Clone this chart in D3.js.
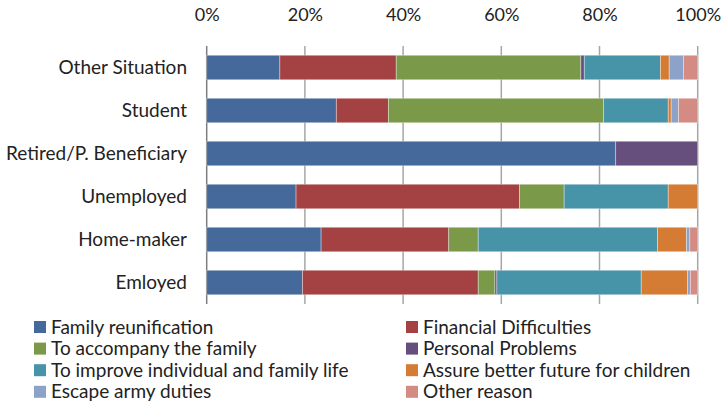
<html>
<head>
<style>
body { margin: 0; background: #fff; }
text { font-family: Lato, "Open Sans", sans-serif; fill: #222; }
.tick text { font-size: 18px; }
.cat text { font-size: 19px; }
.legend text { font-size: 19px; }
</style>
</head>
<body>
<svg height="403" width="723" id="container"></svg>
<script src="https://cdn.jsdelivr.net/npm/d3@7/dist/d3.min.js" charset="UTF-8"></script>
<script>
// categories top to bottom
var categories = ["Other Situation", "Student", "Retired/P. Beneficiary", "Unemployed", "Home-maker", "Emloyed"];
var seriesNames = ["Family reunification", "Financial Difficulties", "To accompany the family", "Personal Problems",
  "To improve individual and family life", "Assure better future for children", "Escape army duties", "Other reason"];
var colors = ["#45699a", "#a44142", "#7a9a4a", "#664f7c", "#4793a8", "#d47c34", "#8da2c8", "#d38b83"];
// percentages per series, same order as categories
var familyReunification = [14.9, 26.4, 83.3, 18.2, 23.3, 19.5];
var financialDifficulties = [23.7, 10.6, 0, 45.5, 26.0, 35.8];
var accompanyFamily = [37.6, 43.8, 0, 9.1, 6.0, 3.4];
var personalProblems = [0.7, 0, 16.7, 0, 0, 0.4];
var improveLife = [15.5, 13.2, 0, 21.2, 36.5, 29.4];
var betterFuture = [1.8, 0.6, 0, 6.0, 5.9, 9.4];
var escapeArmy = [2.9, 1.5, 0, 0, 0.7, 0.6];
var otherReason = [2.9, 3.9, 0, 0, 1.6, 1.5];
var tickValues = [0, 0.2, 0.4, 0.6, 0.8, 1];

var series = [familyReunification, financialDifficulties, accompanyFamily, personalProblems,
  improveLife, betterFuture, escapeArmy, otherReason];

// build rows for the stack
var rows = categories.map(function(c, i) {
  var r = {cat: c};
  seriesNames.forEach(function(s, j) { r[s] = series[j][i]; });
  return r;
});

var svg = d3.select("#container");
var x = d3.scaleLinear().domain([0, 1]).range([206.7, 697.7]);
var y = d3.scaleBand().domain(categories).range([46, 304]).paddingInner(0.43).paddingOuter(0.215);

var stack = d3.stack().keys(seriesNames).offset(d3.stackOffsetExpand);
var stacked = stack(rows);

// gridlines
svg.append("g").selectAll("line")
  .data(tickValues).enter().append("line")
  .attr("x1", d => x(d)).attr("x2", d => x(d))
  .attr("y1", 46).attr("y2", 304)
  .attr("stroke", (d, i) => i == 0 ? "#7f7f7f" : "#a6a6a6")
  .attr("stroke-width", 1.5);

// bars
svg.append("g").selectAll("g")
  .data(stacked).enter().append("g")
  .attr("fill", (d, i) => colors[i])
  .selectAll("rect")
  .data(d => d).enter().append("rect")
  .attr("x", d => x(d[0]))
  .attr("width", d => Math.max(0, x(d[1]) - x(d[0])))
  .attr("y", d => y(d.data.cat))
  .attr("height", y.bandwidth())
  .attr("stroke", "rgba(255,255,255,0.45)")
  .attr("stroke-width", 0.8);

// top axis labels
var axis = d3.axisTop(x).tickValues(tickValues).tickFormat(d3.format(".0%")).tickSize(0).tickPadding(0);
svg.append("g").attr("transform", "translate(0,21)").call(axis)
  .call(g => g.select(".domain").remove());
svg.selectAll(".tick text").attr("fill", "#222").attr("dy", 0);

// category labels
var cat = svg.append("g").attr("class", "cat");
cat.selectAll("text").data(categories).enter().append("text")
  .attr("x", 187)
  .attr("y", d => y(d) + y.bandwidth() / 2)
  .attr("dy", "0.35em")
  .attr("text-anchor", "end")
  .text(d => d);

// legend, two columns
var legend = svg.append("g").attr("class", "legend");
var items = legend.selectAll("g").data(seriesNames).enter().append("g")
  .attr("transform", (d, i) => "translate(" + (i % 2 == 0 ? 34 : 406) + "," + (327 + Math.floor(i / 2) * 21.6) + ")");
items.append("rect").attr("x", 0).attr("y", -6).attr("width", 12).attr("height", 12)
  .attr("fill", (d, i) => colors[i]);
items.append("text").attr("x", 17).attr("dy", "0.35em").text(d => d);
</script>
</body>
</html>
